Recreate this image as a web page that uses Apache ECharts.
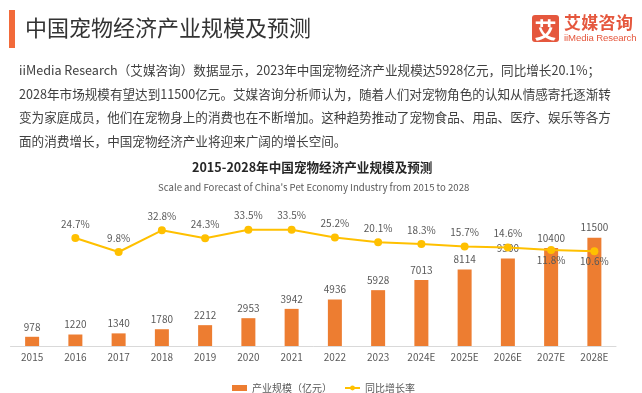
<!DOCTYPE html>
<html>
<head>
<meta charset="utf-8">
<script src="https://cdn.jsdelivr.net/npm/echarts@6/dist/echarts.min.js"></script>
<style>
  html, body { margin: 0; padding: 0; background: #fff; }
  body { width: 642px; height: 393px; position: relative; overflow: hidden; font-family: "Noto Sans CJK SC", "Noto Sans", sans-serif; }
  #chart { position: absolute; left: 0; top: 0; width: 642px; height: 393px; }
  .bar { position: absolute; left: 9px; top: 10px; width: 6px; height: 38px; background: #F26A3A; }
  .head { position: absolute; left: 25px; top: 10px; font-size: 22px; line-height: 32px; color: #333; white-space: nowrap; }
  .logo-box { position: absolute; left: 532px; top: 15px; width: 27px; height: 27px; background: #E5573D; border-radius: 3px; color: #fff; font-size: 22px; font-weight: bold; line-height: 27px; text-align: center; }
  .logo-cn { position: absolute; left: 564px; top: 11px; font-size: 17px; line-height: 22px; font-weight: bold; color: #E5573D; white-space: nowrap; letter-spacing: 0.3px; }
  .logo-en { position: absolute; left: 564px; top: 32px; font-size: 9.6px; line-height: 12px; color: #E5573D; font-family: "Liberation Sans", "DejaVu Sans", sans-serif; white-space: nowrap; letter-spacing: -0.1px; }
  .para { position: absolute; left: 19px; top: 58px; font-size: 12.6px; line-height: 23.7px; color: #404040; white-space: nowrap; }
  #chart { z-index: 0; }
  .bar, .head, .logo-box, .logo-cn, .logo-en, .para { z-index: 1; }
</style>
</head>
<body>
<div id="chart"></div>
<div class="bar"></div>
<div class="head">中国宠物经济产业规模及预测</div>
<div class="logo-box">艾</div>
<div class="logo-cn">艾媒咨询</div>
<div class="logo-en">iiMedia Research</div>
<div class="para">iiMedia Research（艾媒咨询）数据显示，2023年中国宠物经济产业规模达5928亿元，同比增长20.1%；<br>2028年市场规模有望达到11500亿元。艾媒咨询分析师认为，随着人们对宠物角色的认知从情感寄托逐渐转<br>变为家庭成员，他们在宠物身上的消费也在不断增加。这种趋势推动了宠物食品、用品、医疗、娱乐等各方<br>面的消费增长，中国宠物经济产业将迎来广阔的增长空间。</div>
<script>
const categories = ['2015','2016','2017','2018','2019','2020','2021','2022','2023','2024E','2025E','2026E','2027E','2028E'];
const scaleValues = [978, 1220, 1340, 1780, 2212, 2953, 3942, 4936, 5928, 7013, 8114, 9300, 10400, 11500];
const growthValues = [null, 24.7, 9.8, 32.8, 24.3, 33.5, 33.5, 25.2, 20.1, 18.3, 15.7, 14.6, 11.8, 10.6];
const seriesNames = ['产业规模（亿元）', '同比增长率'];
const chartTitle = '2015-2028年中国宠物经济产业规模及预测';
const chartSubtitle = "Scale and Forecast of China's Pet Economy Industry from 2015 to 2028";

const labelBelow = ['2027E', '2028E'];
const lineData = growthValues.map((v, i) => {
  if (labelBelow.indexOf(categories[i]) >= 0) {
    return { value: v, label: { position: 'bottom', distance: 1 } };
  }
  return v;
});

const chart = echarts.init(document.getElementById('chart'), null, { renderer: 'canvas' });
chart.setOption({
  animation: false,
  textStyle: { fontFamily: '"Noto Sans CJK SC", "Noto Sans", sans-serif' },
  title: [
    { text: chartTitle, left: 192, top: 161, textStyle: { fontSize: 12.6, fontWeight: 'bold', color: '#262626' }, padding: 0 },
    { text: chartSubtitle, left: 158, top: 183, textStyle: { fontSize: 9.6, fontWeight: 'normal', color: '#595959' }, padding: 0 }
  ],
  legend: {
    left: 227, top: 378, itemWidth: 15, itemHeight: 6, itemGap: 12,
    textStyle: { fontSize: 10, color: '#595959' },
    data: [{ name: seriesNames[0], icon: 'rect' }, { name: seriesNames[1] }]
  },
  grid: { left: 10.5, right: 26, top: 200, bottom: 47, containLabel: false },
  xAxis: {
    type: 'category', data: categories,
    axisLine: { lineStyle: { color: '#D9D9D9', width: 1 } },
    axisTick: { show: false },
    axisLabel: { color: '#595959', fontSize: 10, margin: 6, interval: 0 }
  },
  yAxis: [
    { type: 'value', min: 0, max: 15500, show: false, splitLine: { show: false } },
    { type: 'value', min: -90, max: 65, show: false, splitLine: { show: false } }
  ],
  series: [
    {
      name: seriesNames[0], type: 'bar', data: scaleValues, barWidth: 14, yAxisIndex: 0,
      itemStyle: { color: '#ED7D31' },
      label: { show: true, position: 'top', distance: 5, color: '#595959', fontSize: 10 }
    },
    {
      name: seriesNames[1], type: 'line', data: lineData, yAxisIndex: 1, connectNulls: false,
      symbol: 'circle', symbolSize: 8,
      lineStyle: { color: '#FFC000', width: 2 },
      itemStyle: { color: '#FFC000' },
      label: { show: true, position: 'top', distance: 5, color: '#595959', fontSize: 10, formatter: p => p.value.toFixed(1) + '%' }
    }
  ]
});
</script>
</body>
</html>
